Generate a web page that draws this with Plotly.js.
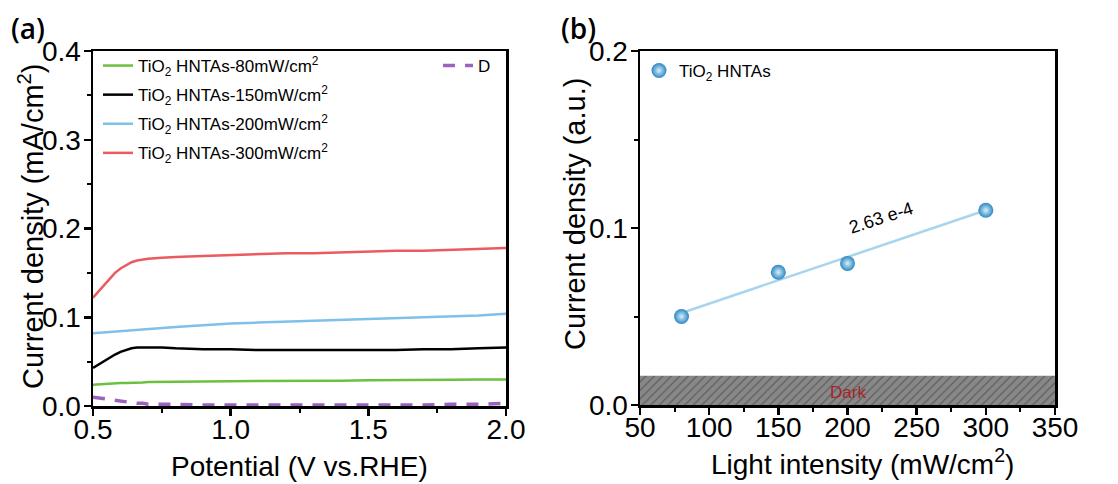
<!DOCTYPE html>
<html>
<head>
<meta charset="utf-8">
<script src="https://cdn.plot.ly/plotly-3.0.1.min.js"></script>
<style>html,body{margin:0;padding:0;background:#fff;}#chart{width:1118px;height:484px;}</style>
</head>
<body>
<div id="chart"></div>
<script>
// ---- Panel (a) data: photocurrent vs potential ----
const potential = [0.5,0.52,0.54,0.56,0.58,0.6,0.62,0.64,0.66,0.68,0.7,0.75,0.8,0.9,1.0,1.1,1.2,1.3,1.4,1.5,1.6,1.7,1.8,1.9,2.0];
const cur80  = [0.024,0.0245,0.025,0.025,0.0255,0.026,0.026,0.026,0.0265,0.0265,0.027,0.027,0.027,0.0275,0.028,0.028,0.028,0.0285,0.0285,0.029,0.029,0.029,0.0295,0.030,0.030];
const cur150 = [0.043,0.047,0.051,0.055,0.058,0.061,0.063,0.065,0.066,0.066,0.066,0.066,0.065,0.064,0.064,0.063,0.063,0.063,0.063,0.063,0.063,0.064,0.064,0.065,0.066];
const cur200 = [0.082,0.0825,0.083,0.0835,0.084,0.0845,0.085,0.0855,0.086,0.0865,0.087,0.088,0.089,0.091,0.093,0.094,0.095,0.096,0.097,0.098,0.099,0.100,0.101,0.102,0.104];
const cur300 = [0.122,0.129,0.137,0.144,0.150,0.155,0.159,0.162,0.164,0.165,0.166,0.167,0.168,0.169,0.170,0.171,0.172,0.172,0.173,0.174,0.175,0.175,0.176,0.177,0.178];
const curDark = [0.010,0.009,0.008,0.007,0.006,0.005,0.004,0.004,0.003,0.003,0.002,0.002,0.002,0.001,0.001,0.001,0.001,0.001,0.001,0.001,0.001,0.001,0.002,0.002,0.003];
const seriesNamesA = [
  "TiO<sub>2</sub> HNTAs-80mW/cm<sup>2</sup>",
  "TiO<sub>2</sub> HNTAs-150mW/cm<sup>2</sup>",
  "TiO<sub>2</sub> HNTAs-200mW/cm<sup>2</sup>",
  "TiO<sub>2</sub> HNTAs-300mW/cm<sup>2</sup>"
];
const darkName = "D";
const xTitleA = "Potential (V vs.RHE)";
const yTitleA = "Current density (mA/cm<sup>2</sup>)";

// ---- Panel (b) data: current density vs light intensity ----
const intensity = [80,150,200,300];
const density = [0.050,0.075,0.080,0.110];
const fitX = [80,300];
const fitY = [0.052,0.110];
const darkBandX = [50,350,350,50,50];
const darkBandY = [0,0,0.0165,0.0165,0];
const slopeLabel = "2.63 e-4";
const darkLabel = "Dark";
const seriesNameB = "TiO<sub>2</sub> HNTAs";
const xTitleB = "Light intensity (mW/cm<sup>2</sup>)";
const yTitleB = "Current density (a.u.)";

const FONT = "Liberation Sans";
const W = 1118, H = 484;
const px = v => v / W;
const py = v => 1 - v / H;

const traces = [
  {x: potential, y: cur80, name: seriesNamesA[0], mode: "lines", line: {color: "#6cc040", width: 2.5}, xaxis: "x", yaxis: "y", legend: "legend", legendgroup: "g1"},
  {x: potential, y: cur150, name: seriesNamesA[1], mode: "lines", line: {color: "#000000", width: 2.5}, xaxis: "x", yaxis: "y", legend: "legend", legendgroup: "g2"},
  {x: potential, y: cur200, name: seriesNamesA[2], mode: "lines", line: {color: "#7fc0ea", width: 2.5}, xaxis: "x", yaxis: "y", legend: "legend", legendgroup: "g3"},
  {x: potential, y: cur300, name: seriesNamesA[3], mode: "lines", line: {color: "#ea5b5f", width: 2.5}, xaxis: "x", yaxis: "y", legend: "legend", legendgroup: "g4"},
  {x: potential, y: curDark, name: darkName, mode: "lines", line: {color: "#9b62be", width: 3.5, dash: "12px,10px"}, xaxis: "x", yaxis: "y", legend: "legend2"},
  {x: darkBandX, y: darkBandY, mode: "lines", fill: "toself", fillcolor: "#858585", line: {width: 0, color: "rgba(0,0,0,0)"},
   fillpattern: {shape: "/", bgcolor: "#888888", fgcolor: "#5e5e5e", size: 6, solidity: 0.2},
   xaxis: "x2", yaxis: "y2", showlegend: false, hoverinfo: "skip"},
  {x: fitX, y: fitY, mode: "lines", line: {color: "#a9d4ee", width: 2.5}, xaxis: "x2", yaxis: "y2", showlegend: false},
  {x: intensity, y: density, name: seriesNameB, mode: "markers",
   marker: {size: 15, color: "#2b88c2", line: {width: 0}, gradient: {type: "radial", color: "#d8eefa"}},
   xaxis: "x2", yaxis: "y2", legend: "legend3"}
];

const TICKFONT = {family: FONT, size: 28, color: "#000"};
function ax(extra) {
  const base = {
    showline: true, linecolor: "#000", linewidth: 2.5, mirror: true,
    ticks: "outside", ticklen: 7, tickwidth: 2.5, tickcolor: "#000",
    showgrid: false, zeroline: false, tickfont: TICKFONT
  };
  return Object.assign(base, extra);
}
const minorTicks = d => ({dtick: d, ticks: "outside", ticklen: 4, tickwidth: 2, tickcolor: "#000", showgrid: false});
const titleAnn = (text, xp, yp, angle, size) => ({text: text, xref: "paper", yref: "paper", x: px(xp), y: py(yp),
  xanchor: "center", yanchor: "middle", textangle: angle, showarrow: false, font: {family: FONT, size: size, color: "#000"}});

const layout = {
  width: W, height: H,
  margin: {l: 0, r: 0, t: 0, b: 0},
  paper_bgcolor: "#fff", plot_bgcolor: "#fff",
  font: {family: FONT, color: "#000"},
  xaxis: ax({domain: [px(93), px(506)], range: [0.5, 2.0], dtick: 0.5, tick0: 0.5, tickformat: ".1f", anchor: "y",
    minor: minorTicks(0.25), ticklabelstandoff: -10}),
  yaxis: ax({domain: [py(406), py(51)], range: [0, 0.4], dtick: 0.1, tickformat: ".1f", anchor: "x",
    minor: minorTicks(0.05), ticklabelstandoff: -3}),
  xaxis2: ax({domain: [px(640), px(1055)], range: [50, 350], dtick: 50, tick0: 50, anchor: "y2",
    minor: minorTicks(25), ticklabelstandoff: -11}),
  yaxis2: ax({domain: [py(405), py(51)], range: [0, 0.2], dtick: 0.1, tickformat: ".1f", anchor: "x2",
    minor: minorTicks(0.05), ticklabelstandoff: -3}),
  legend: {x: px(98), y: py(48), xanchor: "left", yanchor: "top", bgcolor: "rgba(0,0,0,0)",
    font: {family: FONT, size: 17, color: "#000"}, traceorder: "grouped", tracegroupgap: 4},
  legend2: {x: px(496), y: py(48), xanchor: "right", yanchor: "top", bgcolor: "rgba(0,0,0,0)",
    font: {family: FONT, size: 17, color: "#000"}},
  legend3: {x: px(639), y: py(53), xanchor: "left", yanchor: "top", bgcolor: "rgba(0,0,0,0)",
    font: {family: FONT, size: 17, color: "#000"}},
  annotations: [
    titleAnn(xTitleA, 299.5, 466, 0, 28),
    titleAnn(yTitleA, 31, 226, -90, 29),
    titleAnn(xTitleB, 862, 462, 0, 28),
    titleAnn(yTitleB, 575, 214, -90, 29),
    {text: "(a)", xref: "paper", yref: "paper", x: px(9), y: py(7), xanchor: "left", yanchor: "top", showarrow: false,
     font: {family: "Open Sans", size: 28, color: "#000", weight: 600}},
    {text: "(b)", xref: "paper", yref: "paper", x: px(559), y: py(7), xanchor: "left", yanchor: "top", showarrow: false,
     font: {family: "Open Sans", size: 28, color: "#000", weight: 600}},
    {text: slopeLabel, xref: "x2", yref: "y2", x: 224, y: 0.1058, textangle: -18, showarrow: false,
     font: {family: FONT, size: 18, color: "#000"}},
    {text: darkLabel, xref: "x2", yref: "y2", x: 200, y: 0.0072, showarrow: false,
     font: {family: FONT, size: 17, color: "#a8242a"}}
  ]
};

Plotly.newPlot("chart", traces, layout, {displayModeBar: false, staticPlot: true});
</script>
</body>
</html>
